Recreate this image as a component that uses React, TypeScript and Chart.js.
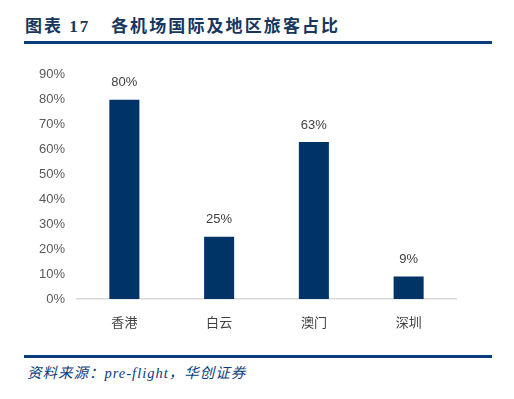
import React, { useEffect, useRef } from "react";
import { Chart, registerables } from "chart.js";
Chart.register(...registerables);

const categories = ["香港", "白云", "澳门", "深圳"];
const shares = [80, 25, 63, 9];
const yTicks = [0, 10, 20, 30, 40, 50, 60, 70, 80, 90];

const labelPlugin = {
  id: "barLabels",
  afterDatasetsDraw(chart: any) {
    const ctx = chart.ctx;
    const meta = chart.getDatasetMeta(0);
    ctx.save();
    ctx.fillStyle = "#404040";
    ctx.font = "13px 'Liberation Sans', Arial, sans-serif";
    ctx.textAlign = "center";
    ctx.textBaseline = "middle";
    meta.data.forEach((el: any, i: number) => {
      ctx.fillText(shares[i] + "%", el.x, el.y - 17);
    });
    ctx.restore();
  },
};

export default function App() {
  const ref = useRef<HTMLCanvasElement>(null);
  useEffect(() => {
    const chart = new Chart(ref.current!, {
      type: "bar",
      data: {
        labels: categories,
        datasets: [
          {
            data: shares,
            backgroundColor: "#003366",
            categoryPercentage: 1,
            barPercentage: 0.317,
          },
        ],
      },
      options: {
        animation: false,
        responsive: false,
        maintainAspectRatio: false,
        layout: { padding: { top: 16, right: 24, bottom: 0, left: 0 } },
        plugins: { legend: { display: false }, tooltip: { enabled: false } },
        scales: {
          y: {
            min: 0,
            max: 90,
            afterBuildTicks(scale: any) {
              scale.ticks = yTicks.map((v) => ({ value: v }));
            },
            afterFit(scale: any) {
              scale.width = 57;
            },
            grid: { display: false, drawTicks: false },
            border: { display: false },
            ticks: {
              padding: 12,
              color: "#595959",
              font: { family: "'Liberation Sans', Arial, sans-serif", size: 13 },
              callback: (v: any) => v + "%",
            },
          },
          x: {
            afterFit(scale: any) {
              scale.height = 30;
            },
            grid: { display: false, drawTicks: false },
            border: { display: true, color: "#D9D9D9", width: 1.5 },
            ticks: {
              padding: 15,
              color: "#404040",
              font: { family: "'Noto Sans CJK SC', sans-serif", size: 13 },
            },
          },
        },
      },
      plugins: [labelPlugin],
    });
    return () => chart.destroy();
  }, []);

  const titleFont = "'Liberation Serif', 'Noto Sans CJK SC', serif";
  return (
    <div style={{ position: "absolute", left: 0, top: 0, width: 514, height: 399, background: "#fff" }}>
      <div
        style={{
          position: "absolute",
          left: 25,
          top: 17,
          fontFamily: titleFont,
          fontWeight: 700,
          fontSize: 17,
          color: "#17375E",
          whiteSpace: "pre",
          lineHeight: "20px",
          letterSpacing: 2,
        }}
      >
        {"图表 17"}
      </div>
      <div
        style={{
          position: "absolute",
          left: 111,
          top: 17,
          fontFamily: titleFont,
          fontWeight: 700,
          fontSize: 17,
          color: "#17375E",
          whiteSpace: "pre",
          lineHeight: "20px",
          letterSpacing: 2.1,
        }}
      >
        {"各机场国际及地区旅客占比"}
      </div>
      <div style={{ position: "absolute", left: 24, top: 41, width: 468, height: 2.5, background: "#0B3C7D" }} />
      <canvas
        ref={ref}
        width={460}
        height={274}
        style={{ position: "absolute", left: 20, top: 55, width: 460, height: 274 }}
      />
      <div style={{ position: "absolute", left: 24, top: 355, width: 468, height: 2.5, background: "#0B3C7D" }} />
      <div
        style={{
          position: "absolute",
          left: 27,
          top: 364,
          fontFamily: "'Liberation Serif', 'Noto Sans CJK SC', serif",
          fontStyle: "italic",
          fontSize: 14.5,
          color: "#0B3C7D",
          lineHeight: "18px",
          whiteSpace: "pre",
          letterSpacing: 1,
        }}
      >
        {"资料来源：pre-flight，华创证券"}
      </div>
    </div>
  );
}
